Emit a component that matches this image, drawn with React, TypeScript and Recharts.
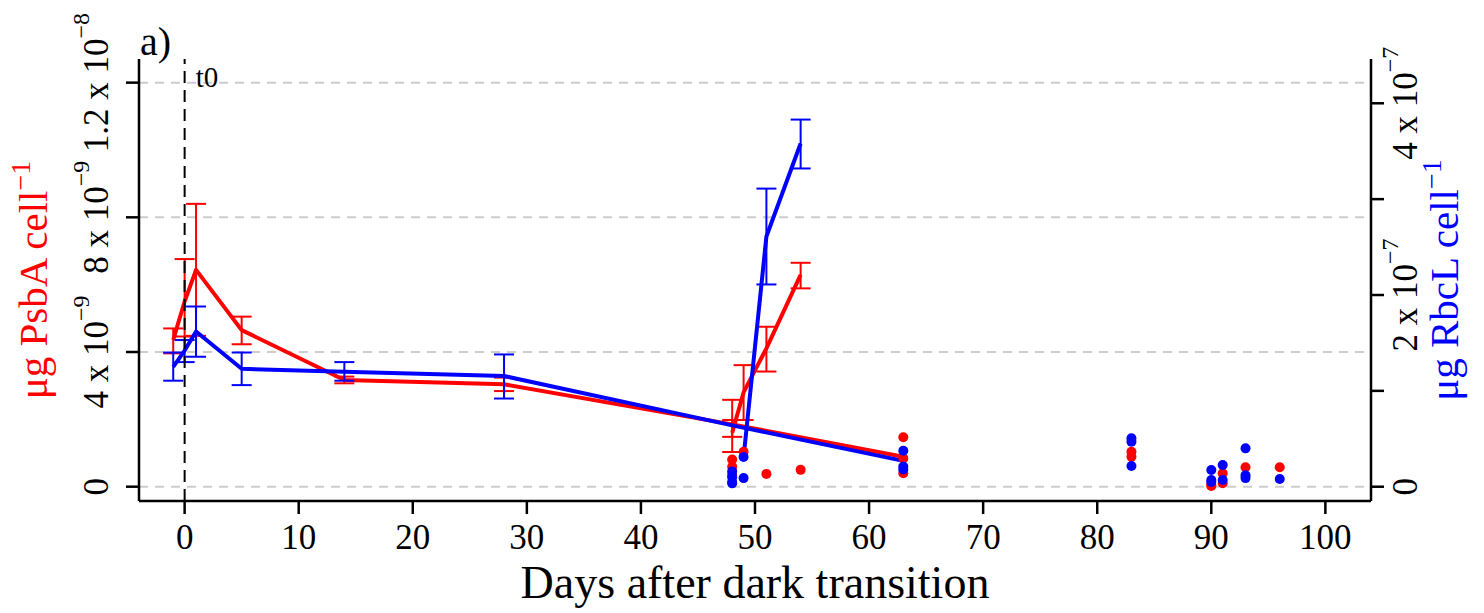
import React from 'react';
import { ComposedChart, Line, Scatter, XAxis, YAxis, ReferenceLine, ErrorBar } from 'recharts';

const FONT = '"Liberation Serif", "DejaVu Serif", "Times New Roman", serif';
const RED = '#ff0000';
const BLUE = '#0000ff';

// ---- PsbA (red, left axis, units of 1e-9 µg cell^-1) main time series
const psbaDays = [-1, 0, 1, 5, 14, 28, 48, 63];
const psbaMean = [4.36, 5.5, 6.44, 4.65, 3.17, 3.04, 1.85, 0.89];
const psbaLow = [3.96, 4.46, 4.48, 4.23, 3.07, 2.84, 1.03, null];
const psbaHigh = [4.7, 6.76, 8.4, 5.05, 3.27, 3.24, 2.58, null];

// ---- PsbA re-illumination series
const psbaReDays = [48, 49, 51, 54];
const psbaReMean = [1.6, 2.8, 4.11, 6.29];
const psbaReLow = [1.48, 1.98, 3.42, 5.89];
const psbaReHigh = [1.98, 3.61, 4.75, 6.65];

// ---- RbcL (blue, right axis, units of 1e-7 µg cell^-1) main time series
const rbclDays = [-1, 0, 1, 5, 14, 28, 48, 63];
const rbclMean = [1.25, 1.42, 1.62, 1.23, 1.2, 1.155, 0.64, 0.27];
const rbclLow = [1.106, 1.3, 1.356, 1.06, 1.106, 0.92, null, null];
const rbclHigh = [1.4, 1.53, 1.88, 1.4, 1.3, 1.38, null, null];

// ---- RbcL re-illumination series
const rbclReDays = [49, 51, 54];
const rbclReMean = [0.31, 2.61, 3.58];
const rbclReLow = [null, 2.11, 3.32];
const rbclReHigh = [null, 3.11, 3.83];

// ---- individual replicate points
const psbaPtDays = [48, 48, 48, 49, 51, 54, 63, 63, 63, 83, 83, 90, 90, 91, 91, 93, 96];
const psbaPtVals = [0.59, 0.81, 0.35, 1.04, 0.38, 0.5, 1.47, 0.84, 0.4, 1.04, 0.89, 0.05, 0.02, 0.4, 0.1, 0.58, 0.58];
const rbclPtDays = [48, 48, 48, 48, 49, 49, 63, 63, 63, 83, 83, 83, 90, 90, 90, 91, 91, 93, 93, 93, 96];
const rbclPtVals = [0.16, 0.1, 0.05, 0.035, 0.31, 0.09, 0.376, 0.21, 0.18, 0.505, 0.47, 0.216, 0.174, 0.07, 0.05, 0.226, 0.07, 0.4, 0.12, 0.09, 0.08];

// ---- axes
const xTicks = [0, 10, 20, 30, 40, 50, 60, 70, 80, 90, 100];
const leftTicks = [0, 4, 8, 12];
const leftTickMain = ['0', '4 x 10', '8 x 10', '1.2 x 10'];
const leftTickExp = ['', '\u22129', '\u22129', '\u22128'];
const rightTicks = [0, 1, 2, 3, 4];
const rightTickMain = ['0', '', '2 x 10', '', '4 x 10'];
const rightTickExp = ['', '', '\u22127', '', '\u22127'];

const X_DOMAIN: [number, number] = [-4, 104];
const LEFT_DOMAIN: [number, number] = [-0.425, 12.702];
const RIGHT_DOMAIN: [number, number] = [-0.149, 4.462];

// layout
const W = 1484;
const H = 613;
const PLOT_LEFT = 139;
const PLOT_RIGHT = 1371;
const PLOT_TOP = 59;
const PLOT_BOTTOM = 501;
const PLOT_MID_Y = (PLOT_TOP + PLOT_BOTTOM) / 2;

const buildSeries = (days: number[], mean: number[], low: (number | null)[], high: (number | null)[]) =>
  days.map((d, i) => ({
    x: d,
    y: mean[i],
    err: low[i] != null && high[i] != null ? [mean[i] - (low[i] as number), (high[i] as number) - mean[i]] : undefined,
  }));

const buildPoints = (days: number[], vals: number[]) => days.map((d, i) => ({ x: d, y: vals[i] }));

const psbaMain = buildSeries(psbaDays, psbaMean, psbaLow, psbaHigh);
const psbaRe = buildSeries(psbaReDays, psbaReMean, psbaReLow, psbaReHigh);
const rbclMain = buildSeries(rbclDays, rbclMean, rbclLow, rbclHigh);
const rbclRe = buildSeries(rbclReDays, rbclReMean, rbclReLow, rbclReHigh);
const psbaPts = buildPoints(psbaPtDays, psbaPtVals);
const rbclPts = buildPoints(rbclPtDays, rbclPtVals);

const XTick = (props: any) => {
  const { x, payload } = props;
  return (
    <text x={x} y={PLOT_BOTTOM + 48} textAnchor="middle" fontSize={35} fontFamily={FONT} fill="#000">
      {payload.value}
    </text>
  );
};

const makeYTick = (ticks: number[], main: string[], exp: string[], bx: number) => (props: any) => {
  const { y, payload } = props;
  const i = ticks.indexOf(payload.value);
  if (i < 0 || !main[i]) return <g />;
  return (
    <text
      x={bx}
      y={y}
      transform={`rotate(-90, ${bx}, ${y})`}
      textAnchor="middle"
      fontSize={35}
      fontFamily={FONT}
      fill="#000"
    >
      {main[i]}
      {exp[i] ? (
        <tspan dy={-19} fontSize={24}>
          {exp[i]}
        </tspan>
      ) : null}
    </text>
  );
};

const LeftTick = makeYTick(leftTicks, leftTickMain, leftTickExp, PLOT_LEFT - 31);
const RightTick = makeYTick(rightTicks, rightTickMain, rightTickExp, PLOT_RIGHT + 46);

const dotShape = (color: string) => (p: any) => <circle cx={p.cx} cy={p.cy} r={5} fill={color} />;

const T0Label = (props: any) => {
  const vb = props.viewBox || {};
  return (
    <text x={(vb.x || 0) + 11} y={(vb.y || 0) + 28} fontSize={29} fontFamily={FONT} fill="#000">
      t0
    </text>
  );
};

export default function App() {
  return (
    <div style={{ position: 'absolute', left: 0, top: 0, width: W, height: H, background: '#fff' }}>
      <ComposedChart width={W} height={H} margin={{ top: PLOT_TOP, right: 0, bottom: 0, left: 0 }}>
        <XAxis
          type="number"
          dataKey="x"
          domain={X_DOMAIN}
          ticks={xTicks}
          interval={0}
          allowDataOverflow
          height={H - PLOT_BOTTOM}
          tickSize={13}
          tick={<XTick />}
          axisLine={{ stroke: '#000', strokeWidth: 2.5 }}
          tickLine={{ stroke: '#000', strokeWidth: 2.5 }}
        />
        <YAxis
          yAxisId="L"
          orientation="left"
          type="number"
          dataKey="y"
          domain={LEFT_DOMAIN}
          ticks={leftTicks}
          interval={0}
          allowDataOverflow
          width={PLOT_LEFT}
          tickSize={13}
          tick={<LeftTick />}
          axisLine={{ stroke: '#000', strokeWidth: 2.5 }}
          tickLine={{ stroke: '#000', strokeWidth: 2.5 }}
        />
        <YAxis
          yAxisId="R"
          orientation="right"
          type="number"
          dataKey="y"
          domain={RIGHT_DOMAIN}
          ticks={rightTicks}
          interval={0}
          allowDataOverflow
          width={W - PLOT_RIGHT}
          tickSize={13}
          tick={<RightTick />}
          axisLine={{ stroke: '#000', strokeWidth: 2.5 }}
          tickLine={{ stroke: '#000', strokeWidth: 2.5 }}
        />

        {leftTicks.map((t) => (
          <ReferenceLine key={`g${t}`} yAxisId="L" y={t} stroke="#cccccc" strokeWidth={2} strokeDasharray="9 7" />
        ))}

        <Line
          yAxisId="L"
          data={psbaMain}
          dataKey="y"
          type="linear"
          stroke={RED}
          strokeWidth={4}
          strokeLinejoin="round"
          dot={false}
          activeDot={false}
          isAnimationActive={false}
        >
          <ErrorBar dataKey="err" direction="y" width={10} stroke={RED} strokeWidth={2} isAnimationActive={false} />
        </Line>
        <Line
          yAxisId="L"
          data={psbaRe}
          dataKey="y"
          type="linear"
          stroke={RED}
          strokeWidth={4}
          strokeLinejoin="round"
          dot={false}
          activeDot={false}
          isAnimationActive={false}
        >
          <ErrorBar dataKey="err" direction="y" width={10} stroke={RED} strokeWidth={2} isAnimationActive={false} />
        </Line>
        <Scatter yAxisId="L" data={psbaPts} dataKey="y" shape={dotShape(RED)} isAnimationActive={false} />

        <Line
          yAxisId="R"
          data={rbclMain}
          dataKey="y"
          type="linear"
          stroke={BLUE}
          strokeWidth={4}
          strokeLinejoin="round"
          dot={false}
          activeDot={false}
          isAnimationActive={false}
        >
          <ErrorBar dataKey="err" direction="y" width={10} stroke={BLUE} strokeWidth={2} isAnimationActive={false} />
        </Line>
        <Line
          yAxisId="R"
          data={rbclRe}
          dataKey="y"
          type="linear"
          stroke={BLUE}
          strokeWidth={4}
          strokeLinejoin="round"
          dot={false}
          activeDot={false}
          isAnimationActive={false}
        >
          <ErrorBar dataKey="err" direction="y" width={10} stroke={BLUE} strokeWidth={2} isAnimationActive={false} />
        </Line>
        <Scatter yAxisId="R" data={rbclPts} dataKey="y" shape={dotShape(BLUE)} isAnimationActive={false} />

        <ReferenceLine
          yAxisId="L"
          x={0}
          stroke="#000"
          strokeWidth={2}
          strokeDasharray="12 7"
          label={<T0Label />}
        />
      </ComposedChart>

      <svg width={W} height={H} style={{ position: 'absolute', left: 0, top: 0, pointerEvents: 'none' }}>
        <text x={PLOT_LEFT + 1} y={55} fontSize={40} fontFamily={FONT} fill="#000">
          a)
        </text>
        <text
          x={(PLOT_LEFT + PLOT_RIGHT) / 2}
          y={598}
          textAnchor="middle"
          fontSize={46}
          fontFamily={FONT}
          fill="#000"
        >
          Days after dark transition
        </text>
        <text
          x={47}
          y={PLOT_MID_Y}
          transform={`rotate(-90, 47, ${PLOT_MID_Y})`}
          textAnchor="middle"
          fontSize={41}
          fontFamily={FONT}
          fill={RED}
        >
          μg PsbA cell
          <tspan dy={-17} fontSize={28}>
            {'\u22121'}
          </tspan>
        </text>
        <text
          x={1458}
          y={PLOT_MID_Y}
          transform={`rotate(-90, 1458, ${PLOT_MID_Y})`}
          textAnchor="middle"
          fontSize={41}
          fontFamily={FONT}
          fill={BLUE}
        >
          μg RbcL cell
          <tspan dy={-17} fontSize={28}>
            {'\u22121'}
          </tspan>
        </text>
      </svg>
    </div>
  );
}
